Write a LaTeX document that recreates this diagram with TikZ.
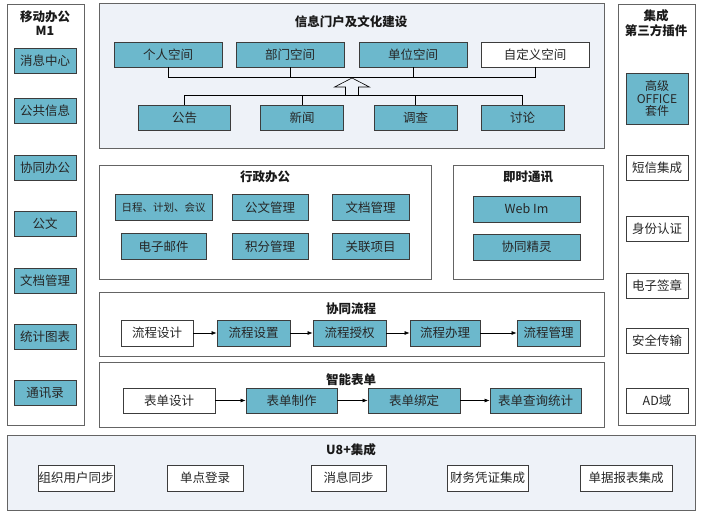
\documentclass[tikz,border=0pt]{standalone}
\usepackage{fontspec}
\setmainfont{Noto Sans CJK SC}
\usetikzlibrary{arrows.meta}
\definecolor{boxblue}{RGB}{108,184,204}
\definecolor{panelbg}{RGB}{238,242,248}
\definecolor{edge}{RGB}{60,60,60}
\definecolor{pedge}{RGB}{100,100,100}
\tikzset{
  panel/.style={draw=pedge, line width=1pt},
  bpanel/.style={panel, fill=panelbg},
  bbox/.style={draw=edge, line width=0.9pt, fill=boxblue, inner sep=0pt, text=black!85,
    font=\fontsize{12.5}{14}\selectfont, align=center},
  wbox/.style={bbox, fill=white},
  ptitle/.style={font=\fontsize{12.5}{14.5}\selectfont\bfseries, text=black!90, inner sep=0pt, align=center},
  conn/.style={draw=black, line width=0.6pt},
  arr/.style={conn, -{Latex[length=5pt,width=4pt]}},
}
\begin{document}
\begin{tikzpicture}[x=1pt,y=-1pt]
\useasboundingbox (0,0) rectangle (704,514);
% panels
\node[panel, minimum width=77, minimum height=421, inner sep=0, anchor=north west] (lp) at (7,4) {};
\node[panel, minimum width=77, minimum height=421, inner sep=0, anchor=north west] (rp) at (618,4) {};
\node[bpanel, minimum width=505, minimum height=145, inner sep=0, anchor=north west] (tp) at (99,3) {};
\node[panel, minimum width=332, minimum height=114, inner sep=0, anchor=north west] (xz) at (99,165) {};
\node[panel, minimum width=150, minimum height=114, inner sep=0, anchor=north west] (js) at (453,165) {};
\node[panel, minimum width=505, minimum height=64, inner sep=0, anchor=north west] (xt) at (99,292) {};
\node[panel, minimum width=505, minimum height=65, inner sep=0, anchor=north west] (zn) at (99,362) {};
\node[bpanel, minimum width=688, minimum height=75, inner sep=0, anchor=north west] (u8) at (7,435) {};
% titles
\node[ptitle] (lpt) at (45,23) {移动办公\\M1};
\node[ptitle] (rpt) at (656,23) {集成\\第三方插件};
\node[ptitle] (tpt) at (351,22) {信息门户及文化建设};
\node[ptitle] (xzt) at (265,177) {行政办公};
\node[ptitle] (jst) at (528,177) {即时通讯};
\node[ptitle] (xtt) at (351,309) {协同流程};
\node[ptitle] (znt) at (351,380) {智能表单};
\node[ptitle] (u8t) at (351,450) {U8+集成};
% left boxes
\foreach \n/\y/\t in {l1/60.5/消息中心, l2/111/公共信息, l3/167.5/协同办公, l4/224/公文, l5/280.5/文档管理, l6/337/统计图表, l7/392.5/通讯录}
  \node[bbox, minimum width=62, minimum height=25] (\n) at (45,\y) {\t};
% right boxes
\node[bbox, minimum width=62, minimum height=51, font=\fontsize{12}{13.5}\selectfont] (r0) at (657,98.5) {高级\\[-1pt]OFFICE\\[-1pt]套件};
\foreach \n/\y/\t in {r1/168/短信集成, r2/228.5/身份认证, r3/285.5/电子签章, r4/340.5/安全传输, r5/400.5/AD域}
  \node[wbox, minimum width=62, minimum height=25] (\n) at (657,\y) {\t};
% top panel
\node[bbox, minimum width=108, minimum height=25] (p1) at (168,54.5) {个人空间};
\node[bbox, minimum width=108, minimum height=25] (p2) at (290,54.5) {部门空间};
\node[bbox, minimum width=108, minimum height=25] (p3) at (413,54.5) {单位空间};
\node[wbox, minimum width=108, minimum height=25] (p4) at (535,54.5) {自定义空间};
\node[bbox, minimum width=92, minimum height=25] (b1) at (184.5,117.5) {公告};
\node[bbox, minimum width=83, minimum height=25] (b2) at (302,117.5) {新闻};
\node[bbox, minimum width=83, minimum height=25] (b3) at (415.5,117.5) {调查};
\node[bbox, minimum width=83, minimum height=25] (b4) at (522.5,117.5) {讨论};
\coordinate (ht) at (0,77);
\coordinate (hb) at (0,95.5);
\draw[conn] (p1.south) -- (p1.south |- ht) -- (p4.south |- ht) -- (p4.south);
\draw[conn] (p2.south) -- (p2.south |- ht);
\draw[conn] (p3.south) -- (p3.south |- ht);
\draw[conn] (b1.north) -- (b1.north |- hb) -- (b4.north |- hb) -- (b4.north);
\draw[conn] (b2.north) -- (b2.north |- hb);
\draw[conn] (b3.north) -- (b3.north |- hb);
\draw[conn, fill=panelbg] (352,78) -- (369.5,87) -- (358.5,87) -- (358.5,95.5) -- (345.5,95.5) -- (345.5,87) -- (334.5,87) -- cycle;
% xingzheng
\node[bbox, minimum width=97, minimum height=26, font=\fontsize{10.5}{12}\selectfont] (x1) at (163.5,207.5) {日程、计划、会议};
\node[bbox, minimum width=76, minimum height=26] (x2) at (270,207.5) {公文管理};
\node[bbox, minimum width=77, minimum height=26] (x3) at (370.5,207.5) {文档管理};
\node[bbox, minimum width=85, minimum height=26] (x4) at (163.5,246.5) {电子邮件};
\node[bbox, minimum width=76, minimum height=26] (x5) at (270,246.5) {积分管理};
\node[bbox, minimum width=77, minimum height=26] (x6) at (370.5,246.5) {关联项目};
% im
\node[bbox, minimum width=107, minimum height=26] (j1) at (526.5,209) {Web Im};
\node[bbox, minimum width=107, minimum height=26] (j2) at (526.5,247) {协同精灵};
% workflow
\node[wbox, minimum width=72, minimum height=26] (f1) at (157,333) {流程设计};
\node[bbox, minimum width=73, minimum height=26] (f2) at (253.5,333) {流程设置};
\node[bbox, minimum width=73, minimum height=26] (f3) at (349.5,333) {流程授权};
\node[bbox, minimum width=70, minimum height=26] (f4) at (445,333) {流程办理};
\node[bbox, minimum width=63, minimum height=26] (f5) at (548.5,333) {流程管理};
\draw[arr] (f1) -- (f2);
\draw[arr] (f2) -- (f3);
\draw[arr] (f3) -- (f4);
\draw[arr] (f4) -- (f5);
% forms
\node[wbox, minimum width=92, minimum height=25] (s1) at (169,400.5) {表单设计};
\node[bbox, minimum width=91, minimum height=25] (s2) at (291.5,400.5) {表单制作};
\node[bbox, minimum width=92, minimum height=25] (s3) at (414,400.5) {表单绑定};
\node[bbox, minimum width=91, minimum height=25] (s4) at (535.5,400.5) {表单查询统计};
\draw[arr] (s1) -- (s2);
\draw[arr] (s2) -- (s3);
\draw[arr] (s3) -- (s4);
% u8
\node[wbox, minimum width=76, minimum height=26] (u1) at (76,478) {组织用户同步};
\node[wbox, minimum width=76, minimum height=26] (u2) at (205,478) {单点登录};
\node[wbox, minimum width=75, minimum height=26] (u3) at (348.5,478) {消息同步};
\node[wbox, minimum width=81, minimum height=26] (u4) at (487.5,478) {财务凭证集成};
\node[wbox, minimum width=92, minimum height=26] (u5) at (626,478) {单据报表集成};
\end{tikzpicture}
\end{document}
